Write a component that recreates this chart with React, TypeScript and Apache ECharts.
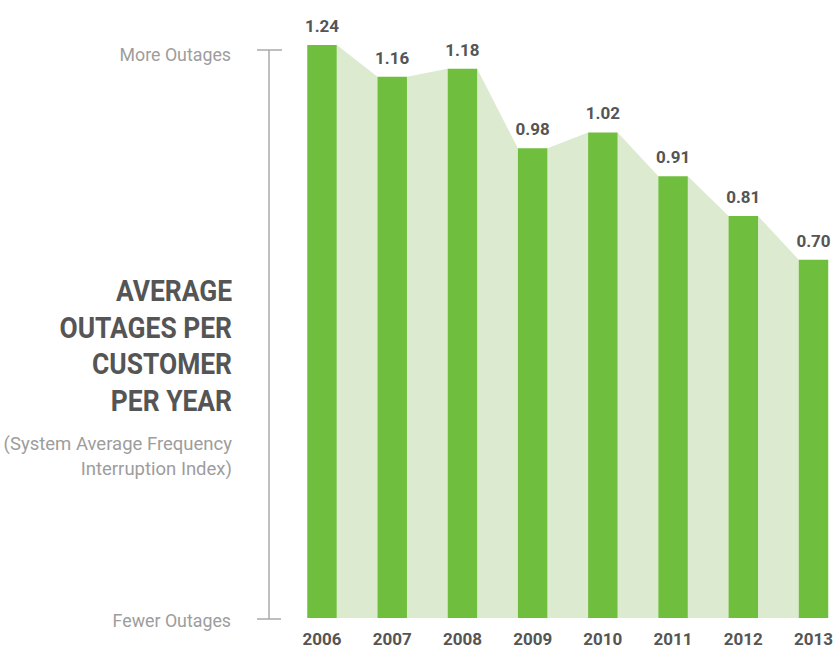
import React, { useEffect, useRef } from "react";
import * as echarts from "echarts";

const years = ["2006", "2007", "2008", "2009", "2010", "2011", "2012", "2013"];
const saifi = [1.24, 1.16, 1.18, 0.98, 1.02, 0.91, 0.81, 0.7];
const titleLines = ["AVERAGE", "OUTAGES PER", "CUSTOMER", "PER YEAR"];
const subtitleLines = ["(System Average Frequency", "Interruption Index)"];
const topLabel = "More Outages";
const bottomLabel = "Fewer Outages";

const Y_MIN = -0.2;
const Y_MAX = 1.3;
const BAR_GREEN = "#70be3e";
const AREA_GREEN = "#dcead0";
const DARK = "#555555";
const GRAY = "#9d9d9d";

export default function App() {
  const ref = useRef<HTMLDivElement>(null);
  useEffect(() => {
    if (!ref.current) return;
    const chart = echarts.init(ref.current, undefined, { renderer: "svg" });
    const barData = saifi.map((v, i) => [i, v]);
    const areaData = saifi.slice(0, -1).map((v, i) => [i, v, saifi[i + 1]]);

    const rightText = (text: string, x: number, y: number, font: string, fill: string, scaleX = 1) => ({
      type: "text",
      x,
      y,
      scaleX,
      style: {
        text,
        fill,
        font,
        align: "right",
        verticalAlign: "middle",
        textAlign: "right",
        textVerticalAlign: "middle",
      },
    });

    const graphics: any[] = [];
    titleLines.forEach((t, k) => {
      graphics.push(rightText(t, 232, 291 + k * 36.7, "bold 30px Roboto, sans-serif", DARK, 0.88));
    });
    subtitleLines.forEach((t, k) => {
      graphics.push(rightText(t, 232, 444 + k * 25, "18.5px Roboto, sans-serif", GRAY, 1));
    });
    graphics.push(rightText(topLabel, 231, 54, "17.8px Roboto, sans-serif", GRAY, 1));
    graphics.push(rightText(bottomLabel, 231, 620, "17.8px Roboto, sans-serif", GRAY, 1));
    const lineStyle = { stroke: "#aaaaaa", lineWidth: 1.5 };
    graphics.push({ type: "line", shape: { x1: 269, y1: 50, x2: 269, y2: 619 }, style: lineStyle });
    graphics.push({ type: "line", shape: { x1: 257, y1: 50, x2: 282, y2: 50 }, style: lineStyle });
    graphics.push({ type: "line", shape: { x1: 257, y1: 619, x2: 281, y2: 619 }, style: lineStyle });

    chart.setOption({
      animation: false,
      grid: { left: 322, right: 17, top: 21, bottom: 30, containLabel: false },
      xAxis: {
        type: "category",
        data: years,
        boundaryGap: false,
        axisLine: { show: false },
        axisTick: { show: false },
        splitLine: { show: false },
        axisLabel: {
          color: DARK,
          fontSize: 17,
          fontWeight: "bold",
          fontFamily: "Roboto, sans-serif",
          margin: 12,
        },
      },
      yAxis: {
        type: "value",
        min: Y_MIN,
        max: Y_MAX,
        show: false,
        splitLine: { show: false },
      },
      graphic: graphics,
      series: [
        {
          type: "custom",
          z: 1,
          data: areaData,
          renderItem: (params: any, api: any) => {
            const i = api.value(0);
            const v = api.value(1);
            const vn = api.value(2);
            const half = (api.size([1, 0])[0] * 0.42) / 2;
            const p1 = api.coord([i, v]);
            const p2 = api.coord([i + 1, vn]);
            const b1 = api.coord([i, Y_MIN]);
            const b2 = api.coord([i + 1, Y_MIN]);
            return {
              type: "polygon",
              shape: {
                points: [
                  [p1[0] + half, p1[1]],
                  [p2[0] - half, p2[1]],
                  [p2[0] - half, b2[1]],
                  [p1[0] + half, b1[1]],
                ],
              },
              style: { fill: AREA_GREEN },
            };
          },
        },
        {
          type: "custom",
          z: 2,
          data: barData,
          renderItem: (params: any, api: any) => {
            const i = api.value(0);
            const v = api.value(1);
            const w = api.size([1, 0])[0] * 0.42;
            const top = api.coord([i, v]);
            const base = api.coord([i, Y_MIN]);
            return {
              type: "group",
              children: [
                {
                  type: "rect",
                  shape: { x: top[0] - w / 2, y: top[1], width: w, height: base[1] - top[1] },
                  style: { fill: BAR_GREEN },
                },
                {
                  type: "text",
                  x: top[0],
                  y: top[1] - 19,
                  style: {
                    text: Number(v).toFixed(2),
                    fill: DARK,
                    font: "bold 17px Roboto, sans-serif",
                    align: "center",
                    verticalAlign: "middle",
                    textAlign: "center",
                    textVerticalAlign: "middle",
                  },
                },
              ],
            };
          },
        },
      ],
    });
    return () => chart.dispose();
  }, []);
  return (
    <div
      ref={ref}
      style={{ position: "fixed", left: 0, top: 0, width: 836, height: 648, background: "#ffffff" }}
    />
  );
}
